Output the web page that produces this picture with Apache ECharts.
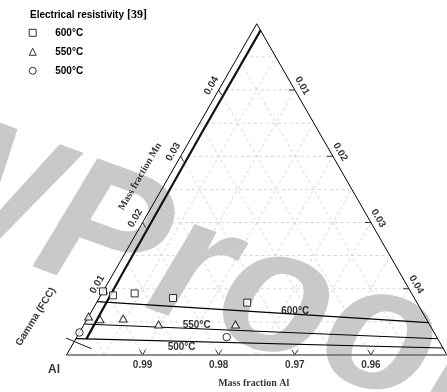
<!DOCTYPE html>
<html>
<head>
<meta charset="utf-8">
<script src="https://cdn.jsdelivr.net/npm/echarts@6/dist/echarts.min.js"></script>
<style>
html,body{margin:0;padding:0;background:#fff}
#chart{width:447px;height:392px}
</style>
</head>
<body>
<div id="chart"></div>
<script>
// Al-rich corner of the Al-Mn-X section: each side spans 0.05 mass fraction
const SPAN = 0.05;
const alTicks = [0.99, 0.98, 0.97, 0.96];
const mnTicks = [0.01, 0.02, 0.03, 0.04];
const thirdTicks = [0.01, 0.02, 0.03, 0.04];
const gridStep = 0.005;

// resistivity measurements, [Mn, X] mass fractions
const pts600 = [[0.0096, 0.0000], [0.0090, 0.0016], [0.0093, 0.0043], [0.0086, 0.0097], [0.0079, 0.0198]];
const pts550 = [[0.0058, 0.0000], [0.0054, 0.0017], [0.0055, 0.0047], [0.0046, 0.0098], [0.0046, 0.0199]];
const pts500 = [[0.0034, 0.0000], [0.0027, 0.0197]];

// calculated solvus isotherms, [Mn, X] at both ends
const iso600 = [[0.00805, 0], [0.0049, 0.0451]];
const iso550 = [[0.00468, 0], [0.00245, 0.04755]];
const iso500 = [[0.00246, 0], [0.00106, 0.04894]];
// fcc phase boundary, [Mn, X]
const fccBoundary = [[0.0024, 0.0014], [0.0120, 0.0012], [0.0340, 0.0010], [0.0490, 0.0010]];
// composition the Gamma (FCC) note points at, [Mn, X]
const gammaPointer = [0.00095, 0.0028];

const SANS = '"Liberation Sans", Arial, sans-serif';
const SERIF = '"Liberation Serif", "Times New Roman", serif';
const S3 = Math.sqrt(3) / 2;
const GRID = { left: 66.5, top: 23.75, width: 382.5, height: 382.5 * S3 };
const PX = GRID.width / SPAN; // pixels per unit of mass fraction

// ternary -> cartesian, optional pixel nudge (dx right, dy down)
function at(m, c, dx, dy) {
  return [c + m / 2 + (dx || 0) / PX, m * S3 - (dy || 0) / PX];
}
function lerp(line, t) {
  return [line[0][0] + (line[1][0] - line[0][0]) * t, line[0][1] + (line[1][1] - line[0][1]) * t];
}

function linesSeries(paths, lineStyle, z) {
  return {
    type: 'lines', coordinateSystem: 'cartesian2d', polyline: true, silent: true,
    z: z, lineStyle: Object.assign({ opacity: 1 }, lineStyle), animation: false,
    data: paths.map(p => ({ coords: p }))
  };
}
function pathSeries(points, lineStyle, z) {
  return {
    type: 'line', silent: true, z: z, symbol: 'none', clip: false, animation: false,
    lineStyle: lineStyle, data: points
  };
}
function textSeries(items, style) {
  return {
    type: 'scatter', silent: true, clip: false, z: 6, symbolSize: 1,
    itemStyle: { color: 'rgba(0,0,0,0)' },
    label: Object.assign({ show: true, position: 'inside', color: '#000', align: 'center', verticalAlign: 'middle' }, style),
    data: items.map(it => ({ value: it.pos, label: { formatter: it.text, rotate: it.rot || 0 } }))
  };
}

// dashed composition grid
const gridPaths = [];
for (let k = 1; k < SPAN / gridStep - 0.5; k++) {
  const v = k * gridStep;
  gridPaths.push([at(v, 0), at(v, SPAN - v)]);   // constant Mn
  gridPaths.push([at(0, v), at(SPAN - v, v)]);   // constant X
  gridPaths.push([at(0, v), at(v, 0)]);          // constant Al
}

// triangle corners
const cAl = at(0, 0), cMn = at(SPAN, 0), cX = at(0, SPAN);

// tick marks
const tickPaths = [];
alTicks.forEach(a => {
  const c = 1 - a;
  tickPaths.push([at(0, c, -3, -5.2), at(0, c), at(0, c, 3, -5.2)]);
});
mnTicks.forEach(m => tickPaths.push([at(m, 0), at(m, 0, 3, 5.2)]));
thirdTicks.forEach(c => tickPaths.push([at(SPAN - c, c), at(SPAN - c, c, -6, 0)]));

const toXY = arr => arr.map(p => at(p[0], p[1]));

// tick labels and titles
const tickLabels = [];
alTicks.forEach(a => tickLabels.push({ pos: at(0, 1 - a, 0, 10.5), text: a.toFixed(2) }));
mnTicks.forEach(m => tickLabels.push({ pos: at(m, 0, -8.5 * S3, -4.25), text: m.toFixed(2), rot: 60 }));
thirdTicks.forEach(c => tickLabels.push({ pos: at(SPAN - c, c, 8.5 * S3, -4.25), text: c.toFixed(2), rot: -60 }));

const isoLabels = [
  { pos: at(...lerp(iso600, 0.598), 0, -2.6), text: '600°C' },
  { pos: at(...lerp(iso550, 0.318), 0, -3.5), text: '550°C' },
  { pos: at(...lerp(iso500, 0.288), 0, 6), text: '500°C' }
];

const pointerEnd = at(gammaPointer[0], gammaPointer[1]);
const pointerStart = at(gammaPointer[0], gammaPointer[1], -56.7, -23.7);

const hollow = { color: '#fff', borderColor: '#000', borderWidth: 1 };

const chart = echarts.init(document.getElementById('chart'), null, { renderer: 'canvas' });
chart.setOption({
  animation: false,
  backgroundColor: '#fff',
  title: {
    left: 30, top: 8, padding: 0,
    text: '{a|Electrical resistivity}{b| [39]}',
    textStyle: {
      rich: {
        a: { fontFamily: SANS, fontWeight: 'bold', fontSize: 10, color: '#000', lineHeight: 14 },
        b: { fontFamily: SERIF, fontSize: 12, color: '#000', lineHeight: 14 }
      }
    }
  },
  legend: {
    orient: 'vertical', left: 28.7, top: 27.8, padding: 0,
    itemWidth: 7, itemHeight: 7, itemGap: 9, selectedMode: false,
    itemStyle: hollow,
    data: [{ name: '600°C', icon: 'rect' }, { name: '550°C', icon: 'triangle' }, { name: '500°C', icon: 'circle' }],
    textStyle: { fontFamily: SANS, fontWeight: 'bold', fontSize: 10, color: '#000', padding: [0, 0, 0, 14] }
  },
  graphic: {
    elements: [{
      type: 'text', x: -144, y: 245, rotation: -0.349, z: 0, silent: true,
      style: {
        text: 'WProof', fontSize: 180, fontWeight: 'bold', fontStyle: 'italic',
        fontFamily: SANS, fill: '#c9c9c9', align: 'left', verticalAlign: 'bottom'
      }
    }]
  },
  grid: Object.assign({ containLabel: false }, GRID),
  xAxis: { type: 'value', min: 0, max: SPAN, show: false },
  yAxis: { type: 'value', min: 0, max: SPAN * S3, show: false },
  series: [
    linesSeries(gridPaths, { color: '#cdcdcd', width: 0.8, type: [3, 3] }, 2),
    pathSeries([cAl, cMn, cX], { color: '#000', width: 1 }, 3),
    pathSeries([cAl, cX], { color: '#6a6a6a', width: 1.6 }, 3),
    linesSeries(tickPaths, { color: '#000', width: 0.8 }, 3),
    linesSeries([toXY(iso600), toXY(iso550), toXY(iso500)], { color: '#000', width: 1.2 }, 4),
    pathSeries(toXY(fccBoundary), { color: '#111', width: 2.2 }, 4),
    linesSeries([[pointerStart, pointerEnd]], { color: '#000', width: 0.9 }, 4),
    {
      name: '600°C', type: 'scatter', z: 5, symbol: 'rect', symbolSize: 7,
      itemStyle: hollow, data: toXY(pts600)
    },
    {
      name: '550°C', type: 'scatter', z: 5, symbol: 'triangle', symbolSize: [8, 7],
      itemStyle: hollow, data: toXY(pts550)
    },
    {
      name: '500°C', type: 'scatter', z: 5, symbol: 'circle', symbolSize: 7.5,
      itemStyle: hollow, data: toXY(pts500)
    },
    textSeries(tickLabels, { fontFamily: SANS, fontWeight: 'bold', fontSize: 10 }),
    textSeries(isoLabels, { fontFamily: SANS, fontWeight: 'bold', fontSize: 10 }),
    textSeries([
      { pos: at(0.02694, 0, -29, 0), text: 'Mass fraction Mn', rot: 60 },
      { pos: at(0, 0.0246, 0, 28.3), text: 'Mass fraction Al' }
    ], { fontFamily: SERIF, fontWeight: 'bold', fontSize: 10 }),
    textSeries([
      { pos: at(0, 0, -12.5, 15), text: 'Al' }
    ], { fontFamily: SANS, fontWeight: 'bold', fontSize: 12 }),
    textSeries([
      { pos: at(gammaPointer[0], gammaPointer[1], -56, -32), text: 'Gamma (FCC)', rot: 58 }
    ], { fontFamily: SANS, fontWeight: 'bold', fontSize: 10 })
  ]
});
</script>
</body>
</html>
